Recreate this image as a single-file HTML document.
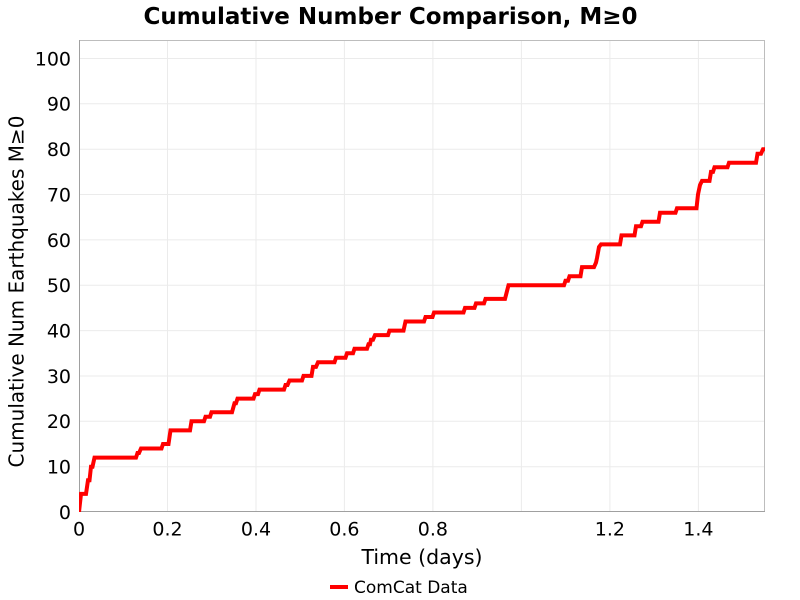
<!DOCTYPE html>
<html><head><meta charset="utf-8"><style>
html,body{margin:0;padding:0;background:#fff;}
svg{display:block;}
text{font-family:"DejaVu Sans","Liberation Sans",sans-serif;fill:#000;}
</style></head><body>
<svg width="800" height="600" viewBox="0 0 800 600" xmlns="http://www.w3.org/2000/svg">
<defs><clipPath id="pc"><rect x="79" y="40" width="686" height="472"/></clipPath></defs>
<rect x="0" y="0" width="800" height="600" fill="#fff"/>
<text x="390.5" y="24" font-size="23" font-weight="bold" text-anchor="middle">Cumulative Number Comparison, M≥0</text>
<g stroke="#ebebeb" stroke-width="1">
<line x1="79" x2="765" y1="58.5" y2="58.5"/>
<line x1="79" x2="765" y1="103.8" y2="103.8"/>
<line x1="79" x2="765" y1="149.2" y2="149.2"/>
<line x1="79" x2="765" y1="194.5" y2="194.5"/>
<line x1="79" x2="765" y1="239.9" y2="239.9"/>
<line x1="79" x2="765" y1="285.3" y2="285.3"/>
<line x1="79" x2="765" y1="330.6" y2="330.6"/>
<line x1="79" x2="765" y1="376" y2="376"/>
<line x1="79" x2="765" y1="421.3" y2="421.3"/>
<line x1="79" x2="765" y1="466.7" y2="466.7"/>
<line y1="40" y2="512" x1="167.5" x2="167.5"/>
<line y1="40" y2="512" x1="256" x2="256"/>
<line y1="40" y2="512" x1="344.4" x2="344.4"/>
<line y1="40" y2="512" x1="432.9" x2="432.9"/>
<line y1="40" y2="512" x1="521.4" x2="521.4"/>
<line y1="40" y2="512" x1="609.9" x2="609.9"/>
<line y1="40" y2="512" x1="698.4" x2="698.4"/>
</g>
<rect x="79.5" y="40.5" width="685" height="471" fill="none" stroke="#bdbdbd" stroke-width="1"/>
<line x1="79.5" y1="40" x2="79.5" y2="512" stroke="#a0a0a0"/>
<line x1="79" y1="511.5" x2="765" y2="511.5" stroke="#a0a0a0"/>
<g font-size="19" text-anchor="end">
<text x="71" y="65.4">100</text>
<text x="71" y="110.7">90</text>
<text x="71" y="156.1">80</text>
<text x="71" y="201.4">70</text>
<text x="71" y="246.8">60</text>
<text x="71" y="292.2">50</text>
<text x="71" y="337.5">40</text>
<text x="71" y="382.9">30</text>
<text x="71" y="428.2">20</text>
<text x="71" y="473.6">10</text>
<text x="71" y="518.9">0</text>
</g>
<g font-size="19" text-anchor="middle">
<text x="79" y="535.5">0</text>
<text x="167.5" y="535.5">0.2</text>
<text x="256" y="535.5">0.4</text>
<text x="344.4" y="535.5">0.6</text>
<text x="432.9" y="535.5">0.8</text>
<text x="609.9" y="535.5">1.2</text>
<text x="698.4" y="535.5">1.4</text>
</g>
<text x="422" y="564" font-size="20.5" text-anchor="middle">Time (days)</text>
<text transform="translate(23.5,291.5) rotate(-90)" font-size="20" text-anchor="middle">Cumulative Num Earthquakes M≥0</text>
<g clip-path="url(#pc)">
<path fill="none" stroke="#ff0000" stroke-width="4" stroke-linejoin="miter" d="M79,512 L81,493.9 L86,493.9 L88,480.3 L89.5,480.3 L91,466.7 L92.5,466.7 L94.5,457.6 L136,457.6 L137.5,453 L139,453 L141,448.5 L161.5,448.5 L163,444 L168.5,444 L170.5,430.4 L190,430.4 L191.5,421.3 L204,421.3 L205.5,416.8 L210,416.8 L211.5,412.2 L232,412.2 L234.5,403.2 L236,403.2 L237.5,398.6 L253.5,398.6 L255,394.1 L258,394.1 L259.5,389.6 L284,389.6 L285.5,385 L287.5,385 L289.5,380.5 L302,380.5 L303.5,375.9 L311.5,375.9 L313,366.9 L316,366.9 L318,362.3 L334.5,362.3 L336,357.8 L345.5,357.8 L347,353.3 L353,353.3 L354.5,348.7 L367,348.7 L368.5,344.2 L370,344.2 L371,339.7 L373,339.7 L375,335.1 L388,335.1 L389.5,330.6 L403.5,330.6 L405.5,321.5 L424,321.5 L425.5,317 L432.5,317 L434,312.5 L463.5,312.5 L465,307.9 L474.5,307.9 L476,303.4 L484,303.4 L485.5,298.9 L505,298.9 L508.5,285.3 L564,285.3 L565.5,280.7 L568,280.7 L569.5,276.2 L580.5,276.2 L582,267.1 L594,267.1 L596,262.6 L597,258 L599,247 L601,244.4 L620,244.4 L621.5,235.4 L634.5,235.4 L636,226.3 L641,226.3 L642.5,221.8 L658.5,221.8 L660,212.7 L675.5,212.7 L677,208.2 L696.5,208.2 L698,194.5 L700,185 L702,180.9 L709.5,180.9 L711,171.9 L713,171.9 L714.5,167.3 L727.5,167.3 L729,162.8 L756,162.8 L757.5,153.7 L761,153.7 L763,149.2 L766,149.2"/>
</g>
<line x1="330" y1="587" x2="348" y2="587" stroke="#ff0000" stroke-width="4"/>
<text x="354" y="593" font-size="17">ComCat Data</text>
</svg>
</body></html>
